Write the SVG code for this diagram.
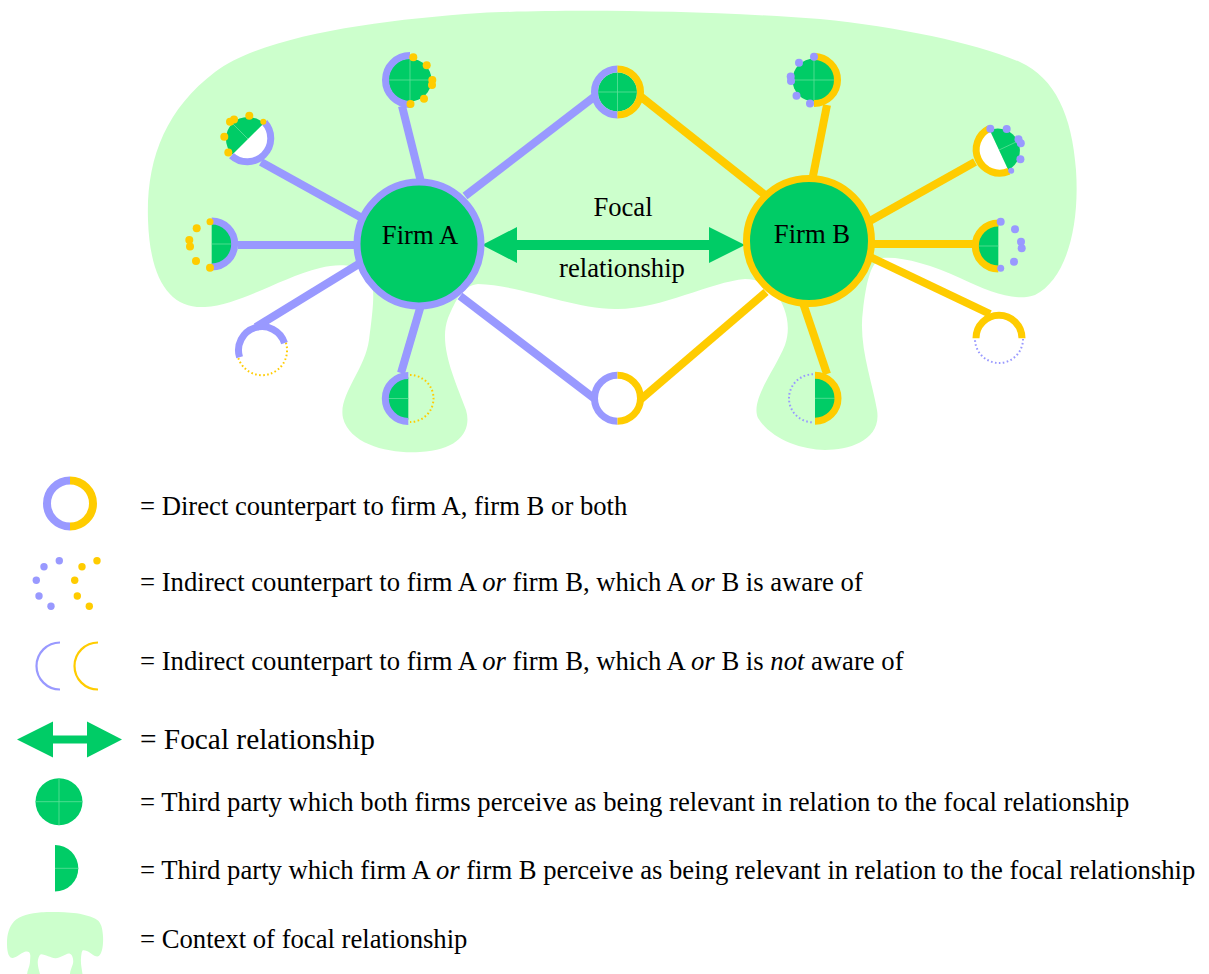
<svg xmlns="http://www.w3.org/2000/svg" width="1209" height="974" viewBox="0 0 1209 974">
<style>
.ctx{fill:#ccffcc}
.sp{stroke-width:8;fill:none;stroke-linecap:butt}
.pA{stroke:#9999ff}
.pB{stroke:#ffcc00}
.ring{fill:none;stroke-width:7}
.gd{fill:#00cc66}
.wh{fill:#ffffff}
.seam{stroke:#5fe09a;stroke-width:0.8;fill:none}
.dp{fill:#9999ff}
.dy{fill:#ffcc00}
.dotP{fill:none;stroke:#9999ff;stroke-width:2;stroke-dasharray:1.6 2.4}
.dotY{fill:none;stroke:#ffcc00;stroke-width:2;stroke-dasharray:1.6 2.4}
.arrow{fill:#00cc66}
text{font-family:"Liberation Serif","Times New Roman",serif;font-size:26.67px;fill:#000}
.big{font-size:29.33px}
.it{font-style:italic}
</style>
<defs>
<path id="context-shape" d="M 148,220 C 146,160 165,110 215,72 C 265,35 380,20 480,13 C 560,9 700,10 820,19 C 900,27 975,43 1020,62 C 1055,78 1072,115 1076,170 C 1080,230 1065,280 1035,295 C 1015,302 990,292 960,278 C 930,264 900,256 882,258 C 870,262 866,285 863,310 C 858,345 872,380 877,410 C 882,440 850,450 825,450 C 800,450 770,438 758,418 C 750,400 775,370 785,345 C 792,325 785,305 775,292 C 765,282 755,279 745,279 C 710,282 660,310 615,309 C 570,308 520,285 478,284 C 462,286 456,300 448,318 C 438,345 455,380 466,410 C 472,430 460,450 420,452 C 390,454 350,445 343,418 C 338,395 365,370 369,340 C 372,318 374,300 373,290 C 370,265 345,262 320,268 C 280,278 240,305 205,307 C 170,309 150,280 148,220 Z"/>
</defs>
<rect width="1209" height="974" fill="#ffffff"/>
<g id="context"><use href="#context-shape" class="ctx"/></g>

<g id="connectors">
  <line class="sp pA" x1="421" y1="182" x2="402" y2="106"/>
  <line class="sp pA" x1="362" y1="218" x2="261" y2="162"/>
  <line class="sp pA" x1="358" y1="245" x2="238" y2="245"/>
  <line class="sp pA" x1="362" y1="262" x2="256" y2="327"/>
  <line class="sp pA" x1="421" y1="305" x2="401" y2="373"/>
  <line class="sp pA" x1="465" y1="196" x2="594" y2="97"/>
  <line class="sp pA" x1="460" y1="296" x2="595" y2="399"/>
  <line class="sp pB" x1="765" y1="195" x2="640" y2="96"/>
  <line class="sp pB" x1="766" y1="292" x2="640" y2="400"/>
  <line class="sp pB" x1="813" y1="176" x2="827" y2="105"/>
  <line class="sp pB" x1="868" y1="222" x2="975" y2="162"/>
  <line class="sp pB" x1="868" y1="244" x2="973" y2="244"/>
  <line class="sp pB" x1="868" y1="256" x2="990" y2="314"/>
  <line class="sp pB" x1="802" y1="300" x2="827" y2="374"/>
</g>

<g id="focal-relationship">
  <polygon class="arrow" points="482,245 517,227 517,240 709,240 709,227 745,245 709,263 709,250 517,250 517,263"/>
  <text x="623" y="216" text-anchor="middle">Focal</text>
  <text x="622" y="277" text-anchor="middle">relationship</text>
</g>

<g id="firm-a">
  <circle cx="419" cy="244" r="62" fill="#00cc66" stroke="#9999ff" stroke-width="7"/>
  <text x="420" y="244" text-anchor="middle">Firm A</text>
</g>
<g id="firm-b">
  <circle cx="809" cy="241" r="62.5" fill="#00cc66" stroke="#ffcc00" stroke-width="7"/>
  <text x="812" y="243" text-anchor="middle">Firm B</text>
</g>

<g id="a-top">
  <circle class="gd" cx="410" cy="80" r="21.5"/>
  <path class="seam" d="M410,58.5 V101.5 M388.5,80 H431.5"/>
  <path class="ring pA" d="M410,55.5 A24.5 24.5 0 0 0 410,104.5"/>
  <circle class="dy" cx="413.3" cy="57.3" r="4"/>
  <circle class="dy" cx="426.7" cy="65.3" r="4"/>
  <circle class="dy" cx="432.3" cy="80" r="4"/>
  <circle class="dy" cx="432" cy="85" r="4"/>
  <circle class="dy" cx="424" cy="98.7" r="4"/>
  <circle class="dy" cx="410.5" cy="104" r="4"/>
</g>

<g id="a-upper-left">
  <path class="wh" d="M263.6,123.4 A22 22 0 0 1 232.4,154.6 Z"/>
  <path class="gd" d="M263.6,123.4 A22 22 0 0 0 232.4,154.6 Z"/>
  <path class="seam" d="M248,139 L232.4,123.4"/>
  <path class="ring pA" d="M264.6,122.4 A23.5 23.5 0 0 1 231.4,155.6"/>
  <circle class="dy" cx="230" cy="121.7" r="4"/>
  <circle class="dy" cx="234" cy="119.5" r="4"/>
  <circle class="dy" cx="249.3" cy="115.8" r="4"/>
  <circle class="dy" cx="263.3" cy="121.7" r="3"/>
  <circle class="dy" cx="224.3" cy="136.7" r="4"/>
  <circle class="dy" cx="228.3" cy="152.5" r="4"/>
</g>

<g id="a-left">
  <path class="gd" d="M211.7,222.5 A21.5 21.5 0 0 1 211.7,265.5 Z"/>
  <path class="seam" d="M211.7,244 H233"/>
  <path class="ring pA" d="M211.7,221 A23 23 0 0 1 211.7,267"/>
  <circle class="dy" cx="210" cy="221.7" r="3.5"/>
  <circle class="dy" cx="196.7" cy="228.3" r="4"/>
  <circle class="dy" cx="189.3" cy="240" r="4"/>
  <circle class="dy" cx="190" cy="246.5" r="4"/>
  <circle class="dy" cx="196" cy="261" r="4"/>
  <circle class="dy" cx="210" cy="267.7" r="4"/>
</g>

<g id="a-lower-left">
  <path class="ring pA" d="M239.6,357.3 A23.5 23.5 0 1 1 284.5,343.1"/>
  <path class="dotY" d="M285.9,342.7 A25 25 0 0 1 238.2,357.7"/>
</g>

<g id="a-bottom">
  <path class="gd" d="M408.3,377.5 A21 21 0 0 0 408.3,419.5 Z"/>
  <path class="seam" d="M387.3,398.5 H408.3"/>
  <path class="ring pA" d="M408.3,375.5 A23 23 0 0 0 408.3,421.5"/>
  <path class="dotY" d="M410,375 A23.5 23.5 0 0 1 410,422"/>
</g>

<g id="shared-top">
  <circle class="gd" cx="617.5" cy="92" r="19.5"/>
  <path class="seam" d="M617.5,72.5 V111.5 M598,92 H637"/>
  <path class="ring pA" d="M617.5,69 A23 23 0 0 0 617.5,115"/>
  <path class="ring pB" d="M617.5,69 A23 23 0 0 1 617.5,115"/>
</g>

<g id="shared-bottom">
  <circle class="wh" cx="617.5" cy="398.3" r="20"/>
  <path class="ring pA" d="M617.5,375.3 A23 23 0 0 0 617.5,421.3"/>
  <path class="ring pB" d="M617.5,375.3 A23 23 0 0 1 617.5,421.3"/>
</g>

<g id="b-top">
  <circle class="gd" cx="814" cy="80" r="21.5"/>
  <path class="seam" d="M814,58.5 V101.5 M792.5,80 H835.5"/>
  <path class="ring pB" d="M814,56.5 A23.5 23.5 0 0 1 814,103.5"/>
  <circle class="dp" cx="814" cy="56.7" r="4"/>
  <circle class="dp" cx="799" cy="62.7" r="4"/>
  <circle class="dp" cx="790.7" cy="76.5" r="4"/>
  <circle class="dp" cx="791" cy="81" r="4"/>
  <circle class="dp" cx="796.5" cy="95.7" r="4"/>
  <circle class="dp" cx="810" cy="103.5" r="4"/>
</g>

<g id="b-upper-right">
  <path class="wh" d="M1008.3,169.9 A22 22 0 0 1 989.7,130.1 Z"/>
  <path class="gd" d="M989.7,130.1 A22 22 0 0 1 1008.3,169.9 Z"/>
  <path class="seam" d="M999,150 L1018.9,140.7"/>
  <path class="ring pB" d="M1008.9,171.3 A23.5 23.5 0 0 1 989.1,128.7"/>
  <circle class="dp" cx="990.3" cy="128.7" r="4"/>
  <circle class="dp" cx="1006.7" cy="129" r="4"/>
  <circle class="dp" cx="1018.5" cy="139.3" r="4"/>
  <circle class="dp" cx="1020.8" cy="143.3" r="4"/>
  <circle class="dp" cx="1020.4" cy="159.2" r="4"/>
  <circle class="dp" cx="1011.2" cy="170.7" r="3"/>
</g>

<g id="b-right">
  <path class="gd" d="M998.3,225 A21 21 0 0 0 998.3,267 Z"/>
  <path class="seam" d="M977.3,246 H998.3"/>
  <path class="ring pB" d="M998.3,223 A23 23 0 0 0 998.3,269"/>
  <circle class="dp" cx="1000.7" cy="221.7" r="4"/>
  <circle class="dp" cx="1015" cy="229.3" r="4"/>
  <circle class="dp" cx="1021" cy="241.7" r="4"/>
  <circle class="dp" cx="1021.7" cy="248.3" r="4"/>
  <circle class="dp" cx="1014" cy="261.7" r="4"/>
  <circle class="dp" cx="1000.7" cy="268.3" r="3.5"/>
</g>

<g id="b-lower-right">
  <path class="ring pB" d="M976,338.3 A23 23 0 0 1 1022,338.3"/>
  <path class="dotP" d="M1023,339 A24 24 0 0 1 975,339"/>
</g>

<g id="b-bottom">
  <path class="gd" d="M815,377.3 A21 21 0 0 1 815,419.3 Z"/>
  <path class="seam" d="M815,398.3 H836"/>
  <path class="ring pB" d="M815,375.3 A23 23 0 0 1 815,421.3"/>
  <path class="dotP" d="M813,374.3 A24 24 0 0 0 813,422.3"/>
</g>

<g id="legend-direct">
  <path class="ring pA" d="M70,480.5 A23 23 0 0 0 70,526.5" style="stroke-width:8"/>
  <path class="ring pB" d="M70,480.5 A23 23 0 0 1 70,526.5" style="stroke-width:8"/>
  <text x="140" y="515">= Direct counterpart to firm A, firm B or both</text>
</g>

<g id="legend-indirect-aware">
  <circle class="dp" cx="59.3" cy="560.7" r="3.7"/>
  <circle class="dp" cx="44" cy="566.7" r="3.7"/>
  <circle class="dp" cx="36.3" cy="580.3" r="3.7"/>
  <circle class="dp" cx="39" cy="596" r="3.7"/>
  <circle class="dp" cx="51" cy="606.3" r="3.7"/>
  <circle class="dy" cx="97" cy="560.7" r="3.7"/>
  <circle class="dy" cx="82" cy="566.7" r="3.7"/>
  <circle class="dy" cx="74.7" cy="580.3" r="3.7"/>
  <circle class="dy" cx="77.3" cy="596" r="3.7"/>
  <circle class="dy" cx="89.3" cy="606.3" r="3.7"/>
  <text x="140" y="591">= Indirect counterpart to firm A <tspan class="it">or</tspan> firm B, which A <tspan class="it">or</tspan> B is aware of</text>
</g>

<g id="legend-indirect-unaware">
  <path d="M60,642.5 A23.5 23.5 0 0 0 60,689.5" fill="none" stroke="#9999ff" stroke-width="2.2"/>
  <path d="M98,642.5 A23.5 23.5 0 0 0 98,689.5" fill="none" stroke="#ffcc00" stroke-width="2.2"/>
  <text x="140" y="670">= Indirect counterpart to firm A <tspan class="it">or</tspan> firm B, which A <tspan class="it">or</tspan> B is <tspan class="it">not</tspan> aware of</text>
</g>

<g id="legend-focal">
  <polygon class="arrow" points="17,739.5 53,721.5 53,735.5 87,735.5 87,721.5 122,739.5 87,757.5 87,743.5 53,743.5 53,757.5"/>
  <text class="big" x="140" y="749">= Focal relationship</text>
</g>

<g id="legend-both">
  <circle class="gd" cx="59" cy="801.7" r="23.5"/>
  <path class="seam" d="M59,778.2 V825.2 M35.5,801.7 H82.5"/>
  <text x="140" y="811">= Third party which both firms perceive as being relevant in relation to the focal relationship</text>
</g>

<g id="legend-one">
  <path class="gd" d="M55,845 A23.3 23.3 0 0 1 55,891.6 Z"/>
  <path class="seam" d="M55,868.3 H78.3"/>
  <text x="140" y="879">= Third party which firm A <tspan class="it">or</tspan> firm B perceive as being relevant in relation to the focal relationship</text>
</g>

<g id="legend-context">
  <use href="#context-shape" class="ctx" transform="translate(7,912) scale(0.1035,0.155) translate(-148,-11)"/>
  <text x="140" y="948">= Context of focal relationship</text>
</g>
</svg>
